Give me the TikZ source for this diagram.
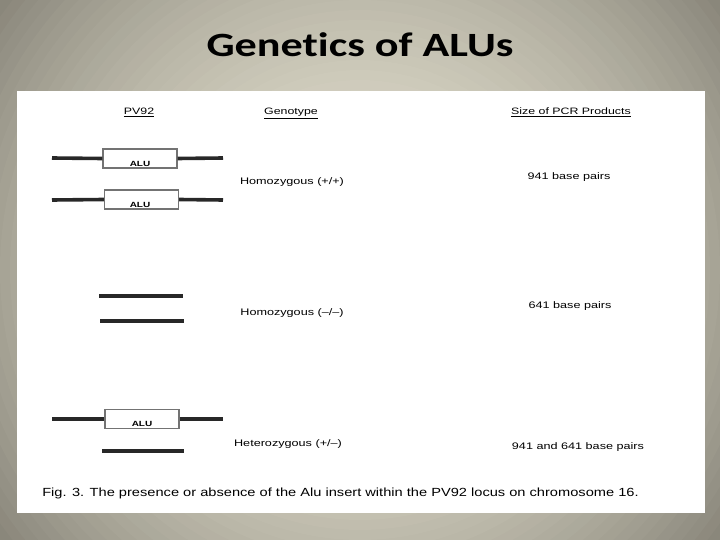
\documentclass[tikz,border=0pt]{standalone}
\usepackage{fontspec}
\newfontfamily\titlefont{Carlito}[FakeStretch=1.3, Ligatures=NoCommon]
\newfontfamily\figfont{Liberation Sans}[FakeStretch=1.33]
\newfontfamily\capfont{Liberation Sans}[FakeStretch=1.24]
\usetikzlibrary{shapes.geometric, arrows}
\definecolor{bgA}{RGB}{225,222,205}
\definecolor{bgE}{RGB}{138,135,123}
\definecolor{dnacol}{RGB}{40,40,40}
\tikzstyle{title} = [
    font=\titlefont\fontsize{34}{34}\selectfont\bfseries,
    anchor=base
]
\tikzstyle{header} = [
    font=\figfont\fontsize{9.3}{10}\selectfont,
    anchor=base
]
\tikzstyle{label} = [
    font=\figfont\fontsize{9.5}{10}\selectfont,
    anchor=base
]
\tikzstyle{alubox} = [
    rectangle,
    minimum width=74pt,
    minimum height=19pt,
    inner sep=0pt,
    draw=black!55,
    line width=1.4pt,
    fill=white
]
\tikzstyle{strand} = [line width=3.6pt, draw=dnacol]
\tikzstyle{alutext} = [font=\figfont\fontsize{7.5}{8}\selectfont\bfseries]

\begin{document}
\begin{tikzpicture}[x=1pt, y=-1pt]

\begin{scope}
\clip (0,0) rectangle (720,540);
\fill [bgE] (0,0) rectangle (720,540);
\foreach \i in {0,...,45} {
    \pgfmathsetmacro{\rad}{460-10*\i}
    \pgfmathsetmacro{\drk}{100*min(1,(\rad/450)^1.8)}
    \fill [bgE!\drk!bgA] (360,270) circle (\rad);
}
\end{scope}
\useasboundingbox (0,0) rectangle (720,540);

\node (ttl) [title] at (360,57) {Genetics of ALUs};

\fill [white] (17,91) rectangle (705,513);

\node (hpv) [header] at (139,115) {\underline{PV92}};
\node (hgeno) [header] at (291,115) {\underline{Genotype}};
\node (hsize) [header] at (571,115) {\underline{Size of PCR Products}};

% +/+
\coordinate (a1l) at (52,158);
\coordinate (a1r) at (223,158);
\node (alu1) [alubox] at (140,158.5) {};
\draw [strand] (a1l) -- (alu1.west);
\draw [strand] (alu1.east) -- (a1r);
\node (alu1t) [alutext] at (140,164) {ALU};

\coordinate (a2l) at (52,200);
\coordinate (a2r) at (223,200);
\node (alu2) [alubox] at (141.5,199.5) {};
\draw [strand] (a2l) -- (alu2.west);
\draw [strand] (alu2.east) -- (a2r);
\node (alu2t) [alutext] at (140,205) {ALU};

\node (homplus) [label] at (292,185) {Homozygous (+/+)};
\node (bp941) [label] at (569,180) {941 base pairs};

% -/-
\coordinate (b1l) at (99,296);
\coordinate (b1r) at (183,296);
\coordinate (b2l) at (100,321);
\coordinate (b2r) at (184,321);
\draw [strand] (b1l) -- (b1r);
\draw [strand] (b2l) -- (b2r);

\node (homminus) [label] at (292,315) {Homozygous (–/–)};
\node (bp641) [label] at (570,308) {641 base pairs};

% +/-
\coordinate (c1l) at (52,419);
\coordinate (c1r) at (223,419);
\node (alu3) [alubox] at (142,419) {};
\draw [strand] (c1l) -- (alu3.west);
\draw [strand] (alu3.east) -- (c1r);
\node (alu3t) [alutext] at (142,424) {ALU};
\coordinate (c2l) at (102,451);
\coordinate (c2r) at (184,451);
\draw [strand] (c2l) -- (c2r);

\node (het) [label] at (288,446) {Heterozygous (+/–)};
\node (bpboth) [label] at (578,449) {941 and 641 base pairs};

\node (cap) [font=\capfont\fontsize{11.8}{13}\selectfont, anchor=base] at (340.5,496)
{Fig. 3. The presence or absence of the Alu insert within the PV92 locus on chromosome 16.};

\end{tikzpicture}
\end{document}
